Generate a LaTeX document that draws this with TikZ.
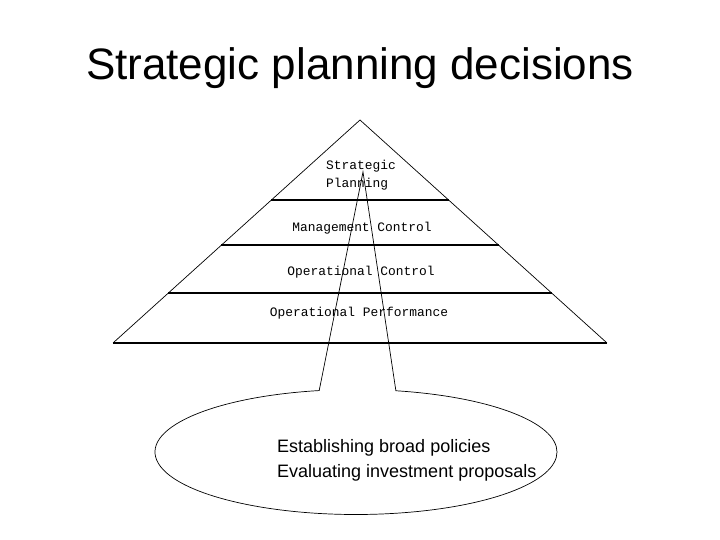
\documentclass[tikz,border=0pt]{standalone}
\usepackage{fontspec}
\setmainfont{Liberation Sans}
\newfontfamily\pixelfont{Liberation Mono}
\usetikzlibrary{
  positioning,
  calc,
  shapes.callouts
}
\tikzset{
  level/.style={
    font=\pixelfont\fontsize{12.9}{18}\selectfont,
    inner sep=0pt,
    align=left
  }
}

\begin{document}
\begin{tikzpicture}[
      x=1pt, y=-1pt,
      bar/.style={line width=1.6pt},
      side/.style={line width=0.7pt}
      ]
      \useasboundingbox (0,0) rectangle (720,540);

      \node[font=\fontsize{44}{50}\selectfont, anchor=base] (title) at (360,80) {Strategic planning decisions};

      % pyramid
      \coordinate (apex) at (360,120);
      \coordinate (bl) at (113,343);
      \coordinate (br) at (607,343);
      \draw[side] (bl) -- (apex) -- (br);
      \draw[bar] (bl) -- (br);

      \foreach \t in {0.359, 0.561, 0.776}{
        \draw[bar] ($(apex)!\t!(bl)$) -- ($(apex)!\t!(br)$);
      }

      \node[level] (strategic) at (361,175) {Strategic\\Planning};
      \node[level] (management) at (362,228) {Management Control};
      \node[level] (operational) at (361,272) {Operational Control};
      \node[level] (performance) at (359,313) {Operational Performance};

      % callout
      \coordinate (tip) at (363,172);
      \node[ellipse callout, draw, side, minimum width=402pt, minimum height=125pt,
        inner sep=0pt, callout absolute pointer={(tip)}, callout pointer arc=22]
        (decisions) at (356,452) {};

      \node[font=\fontsize{18}{25}\selectfont, align=left, anchor=west, inner sep=0pt]
        (policies) at (277,460) {Establishing broad policies\\Evaluating investment proposals};
    \end{tikzpicture}
\end{document}
